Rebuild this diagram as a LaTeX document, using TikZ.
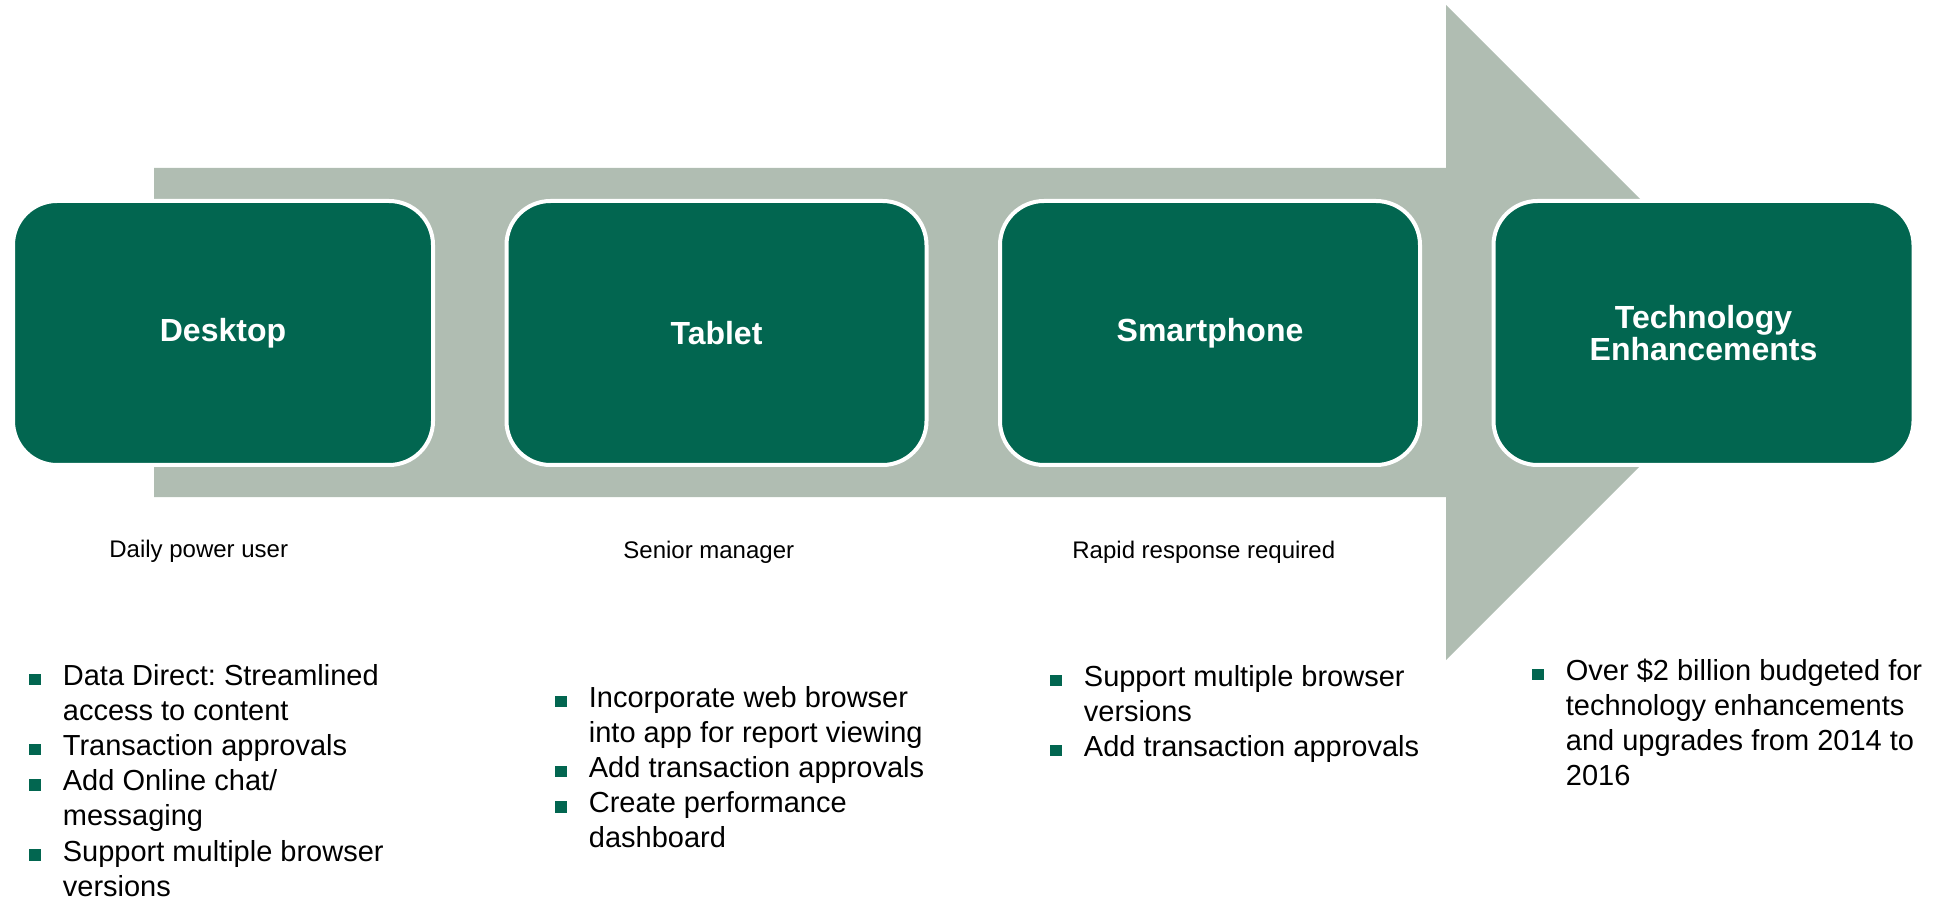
\documentclass[tikz,border=0pt]{standalone}
\usepackage{fontspec}
\setmainfont{Liberation Sans}
\usetikzlibrary{positioning}
\definecolor{dgreen}{RGB}{2,102,80}
\definecolor{agrey}{RGB}{176,189,178}
\newcommand{\bul}{\textcolor{dgreen}{\rule{5.75pt}{5.75pt}}}
\frenchspacing

\begin{document}
\begin{tikzpicture}[x=0.5pt,y=-0.5pt,
    stage/.style={draw=white,line width=2pt,fill=dgreen,rounded corners=22pt,minimum width=210pt,minimum height=132pt,text=white,font=\fontsize{16}{16}\selectfont\bfseries,align=center},
    who/.style={anchor=base west,inner sep=0pt,font=\fontsize{12}{14}\selectfont},
    notes/.style={anchor=base west,inner sep=0pt,font=\fontsize{14.5}{17.6}\selectfont}]
  \useasboundingbox (0,0) rectangle (1935,909);

  % big arrow behind the boxes
  \fill[agrey] (154,168) -- (1446,168) -- (1446,5) -- (1773.5,332.5) -- (1446,660) -- (1446,497) -- (154,497) -- cycle;

  \foreach \x/\n/\t in {223/desktop/Desktop, 716.5/tablet/Tablet, 1210/phone/Smartphone, 1703.5/tech/{Technology\\Enhancements}}
    \node[stage] (\n) at (\x,333) {\t};

  \node[who] (poweruser) at (109,557) {Daily power user};
  \node[who] (manager) at (623,559) {Senior manager};
  \node[who] (rapid) at (1072,558) {Rapid response required};

  % bullet lists
  \node[notes] (desknotes) at (29,685) {\begin{tabular}[t]{@{}p{16.75pt}@{}l@{}}
    \bul & Data Direct: Streamlined\\
         & access to content\\
    \bul & Transaction approvals\\
    \bul & Add Online chat/\\
         & messaging\\
    \bul & Support multiple browser\\
         & versions
  \end{tabular}};
  \node[notes] (tabnotes) at (555,707) {\begin{tabular}[t]{@{}p{16.75pt}@{}l@{}}
    \bul & Incorporate web browser\\
         & into app for report viewing\\
    \bul & Add transaction approvals\\
    \bul & Create performance\\
         & dashboard
  \end{tabular}};
  \node[notes] (phonenotes) at (1050,686) {\begin{tabular}[t]{@{}p{16.75pt}@{}l@{}}
    \bul & Support multiple browser\\
         & versions\\
    \bul & Add transaction approvals
  \end{tabular}};
  \node[notes] (technotes) at (1532,680) {\begin{tabular}[t]{@{}p{16.75pt}@{}l@{}}
    \bul & Over \$2 billion budgeted for\\
         & technology enhancements\\
         & and upgrades from 2014 to\\
         & 2016
  \end{tabular}};
\end{tikzpicture}
\end{document}
